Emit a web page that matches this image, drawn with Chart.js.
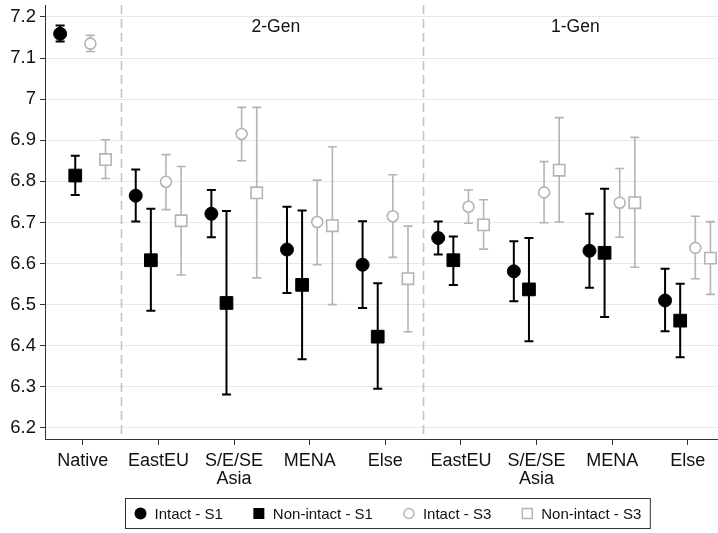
<!DOCTYPE html>
<html>
<head>
<meta charset="utf-8">
<script src="https://cdn.jsdelivr.net/npm/chart.js@4.4.0/dist/chart.umd.min.js"></script>
<style>
  html, body { margin: 0; padding: 0; background: #fff; overflow: hidden; }
  #wrap { width: 718px; height: 533px; }
</style>
</head>
<body>
<div id="wrap"><canvas id="canvas"></canvas></div>
<script>
// categories (Native, then 2-Gen groups, then 1-Gen groups)
var categories = ['Native', 'EastEU', ['S/E/SE', 'Asia'], 'MENA', 'Else', 'EastEU', ['S/E/SE', 'Asia'], 'MENA', 'Else'];
var groupLabels = ['2-Gen', '1-Gen'];
var yTicks = [6.2, 6.3, 6.4, 6.5, 6.6, 6.7, 6.8, 6.9, 7.0, 7.1, 7.2];

// Intact - S1
var intactS1 = [7.159, 6.765, 6.721, 6.634, 6.597, 6.662, 6.581, 6.631, 6.510];
var intactS1Lo = [7.140, 6.702, 6.664, 6.528, 6.492, 6.622, 6.508, 6.541, 6.435];
var intactS1Hi = [7.179, 6.829, 6.779, 6.738, 6.703, 6.702, 6.654, 6.721, 6.587];
// Non-intact - S1
var nonIntactS1 = [6.814, 6.608, 6.504, 6.548, 6.422, 6.608, 6.537, 6.626, 6.461];
var nonIntactS1Lo = [6.767, 6.485, 6.281, 6.367, 6.295, 6.548, 6.411, 6.470, 6.372];
var nonIntactS1Hi = [6.862, 6.733, 6.728, 6.729, 6.552, 6.666, 6.662, 6.782, 6.551];
// Intact - S3
var intactS3 = [7.135, 6.799, 6.915, 6.701, 6.715, 6.738, 6.773, 6.748, 6.638];
var intactS3Lo = [7.116, 6.731, 6.850, 6.597, 6.615, 6.698, 6.699, 6.664, 6.563];
var intactS3Hi = [7.155, 6.865, 6.980, 6.803, 6.816, 6.779, 6.848, 6.831, 6.715];
// Non-intact - S3
var nonIntactS3 = [6.853, 6.704, 6.772, 6.692, 6.563, 6.694, 6.827, 6.748, 6.613];
var nonIntactS3Lo = [6.807, 6.572, 6.565, 6.500, 6.434, 6.635, 6.701, 6.591, 6.525];
var nonIntactS3Hi = [6.901, 6.836, 6.980, 6.884, 6.691, 6.755, 6.955, 6.907, 6.702];

var BLACK = '#000000';
var GREY = '#b4b4b4';
var FONT = "'Liberation Sans', Arial, sans-serif";

function makeSet(label, vals, lo, hi, offset, style, color, radius, hollow) {
    return {
        label: label,
        data: vals.map(function(v, i) { return {x: i + offset, y: v}; }),
        errLo: lo,
        errHi: hi,
        errColor: color,
        errWidth: hollow ? 1.6 : 2,
        pointStyle: style,
        pointRadius: radius,
        pointHoverRadius: radius,
        pointBackgroundColor: hollow ? '#ffffff' : color,
        pointBorderColor: color,
        pointBorderWidth: hollow ? 1.6 : 1,
        showLine: false,
        clip: false
    };
}

var datasets = [
    makeSet('Intact - S1', intactS1, intactS1Lo, intactS1Hi, -0.3, 'circle', BLACK, 6.5, false),
    makeSet('Non-intact - S1', nonIntactS1, nonIntactS1Lo, nonIntactS1Hi, -0.1, 'rect', BLACK, 9, false),
    makeSet('Intact - S3', intactS3, intactS3Lo, intactS3Hi, 0.1, 'circle', GREY, 5.5, true),
    makeSet('Non-intact - S3', nonIntactS3, nonIntactS3Lo, nonIntactS3Hi, 0.3, 'rect', GREY, 8, true)
];

var errorBars = {
    id: 'errorBars',
    beforeDatasetsDraw: function(chart) {
        var ctx = chart.ctx, area = chart.chartArea;
        var xs = chart.scales.x, ys = chart.scales.y;
        ctx.save();
        // dashed separators between Native / 2-Gen / 1-Gen
        ctx.strokeStyle = '#c4c4c4';
        ctx.lineWidth = 1.6;
        ctx.setLineDash([9, 5]);
        [0.5, 4.5].forEach(function(v) {
            var px = Math.round(xs.getPixelForValue(v)) + 0.5;
            ctx.beginPath();
            ctx.moveTo(px, area.top);
            ctx.lineTo(px, area.bottom);
            ctx.stroke();
        });
        ctx.setLineDash([]);
        chart.data.datasets.forEach(function(ds, di) {
            var meta = chart.getDatasetMeta(di);
            ctx.strokeStyle = ds.errColor;
            ctx.lineWidth = ds.errWidth;
            meta.data.forEach(function(pt, i) {
                var x = pt.x;
                var y1 = ys.getPixelForValue(ds.errLo[i]);
                var y2 = ys.getPixelForValue(ds.errHi[i]);
                ctx.beginPath();
                ctx.moveTo(x, y1); ctx.lineTo(x, y2);
                ctx.moveTo(x - 4.5, y1); ctx.lineTo(x + 4.5, y1);
                ctx.moveTo(x - 4.5, y2); ctx.lineTo(x + 4.5, y2);
                ctx.stroke();
            });
        });
        ctx.restore();
    },
    afterDraw: function(chart) {
        var ctx = chart.ctx;
        var xs = chart.scales.x, ys = chart.scales.y;
        ctx.save();
        // group titles
        ctx.fillStyle = '#111';
        ctx.font = '17.5px ' + FONT;
        ctx.textAlign = 'center';
        ctx.textBaseline = 'alphabetic';
        var ty = ys.getPixelForValue(7.2) + 15;
        ctx.fillText(groupLabels[0], xs.getPixelForValue(2.5) + 4, ty);
        ctx.fillText(groupLabels[1], xs.getPixelForValue(6.5) + 1, ty);

        // legend with a frame
        ctx.font = '15px ' + FONT;
        ctx.textAlign = 'left';
        ctx.textBaseline = 'middle';
        var items = chart.data.datasets;
        var markW = 12, gapMark = 8, gapItem = 30, padX = 9;
        var widths = items.map(function(d) { return markW + gapMark + ctx.measureText(d.label).width; });
        var total = padX * 2 + widths.reduce(function(a, b) { return a + b; }, 0) + gapItem * (items.length - 1);
        var left = Math.round(387.5 - total / 2) + 0.5;
        var top = 498.5, h = 30;
        ctx.strokeStyle = '#333';
        ctx.lineWidth = 1;
        ctx.strokeRect(left, top, total, h);
        var cx = left + padX;
        var cy = top + h / 2;
        items.forEach(function(d, i) {
            var mx = cx + markW / 2;
            ctx.beginPath();
            if (d.pointStyle === 'circle') {
                ctx.arc(mx, cy, d.pointBackgroundColor === '#ffffff' ? 5 : 6, 0, Math.PI * 2);
            } else {
                var s = d.pointBackgroundColor === '#ffffff' ? 10 : 11;
                ctx.rect(mx - s / 2, cy - s / 2, s, s);
            }
            if (d.pointBackgroundColor === '#ffffff') {
                ctx.strokeStyle = d.pointBorderColor;
                ctx.lineWidth = 1.4;
                ctx.stroke();
            } else {
                ctx.fillStyle = d.pointBackgroundColor;
                ctx.fill();
            }
            ctx.fillStyle = '#111';
            ctx.fillText(d.label, cx + markW + gapMark, cy + 1);
            cx += widths[i] + gapItem;
        });
        ctx.restore();
    }
};

var ctx = document.getElementById('canvas').getContext('2d');
var myChart = new Chart(ctx, {
    type: 'scatter',
    data: { datasets: datasets },
    plugins: [errorBars],
    options: {
        responsive: true,
        maintainAspectRatio: false,
        animation: false,
        layout: { autoPadding: false, padding: { top: 5, right: 0, bottom: 40, left: 0 } },
        plugins: {
            legend: { display: false },
            tooltip: { enabled: false }
        },
        scales: {
            x: {
                type: 'linear',
                min: -0.5,
                max: 8.4,
                afterBuildTicks: function(scale) {
                    scale.ticks = categories.map(function(c, i) { return {value: i}; });
                },
                afterFit: function(scale) {
                    scale.height = 54;
                    scale.paddingLeft = 0;
                    scale.paddingRight = 0;
                },
                ticks: {
                    autoSkip: false,
                    maxRotation: 0,
                    padding: 7,
                    color: '#111',
                    font: { family: FONT, size: 18, lineHeight: 1.0 },
                    callback: function(v) { return categories[v]; }
                },
                grid: {
                    drawOnChartArea: false,
                    drawTicks: true,
                    tickLength: 6,
                    tickColor: '#333'
                },
                border: { display: true, color: '#333', width: 1 }
            },
            y: {
                min: 6.173,
                max: 7.229,
                afterBuildTicks: function(scale) {
                    scale.ticks = yTicks.map(function(v) { return {value: v}; });
                },
                afterFit: function(scale) {
                    scale.width = 45;
                    scale.paddingTop = 0;
                    scale.paddingBottom = 0;
                },
                ticks: {
                    padding: 4,
                    color: '#111',
                    font: { family: FONT, size: 18.5 },
                    callback: function(v) { return String(Number(v.toFixed(1))); }
                },
                grid: {
                    color: '#e8e8e8',
                    lineWidth: 1,
                    tickLength: 5,
                    tickColor: '#333'
                },
                border: { display: true, color: '#333', width: 1 }
            }
        }
    }
});
</script>
</body>
</html>
